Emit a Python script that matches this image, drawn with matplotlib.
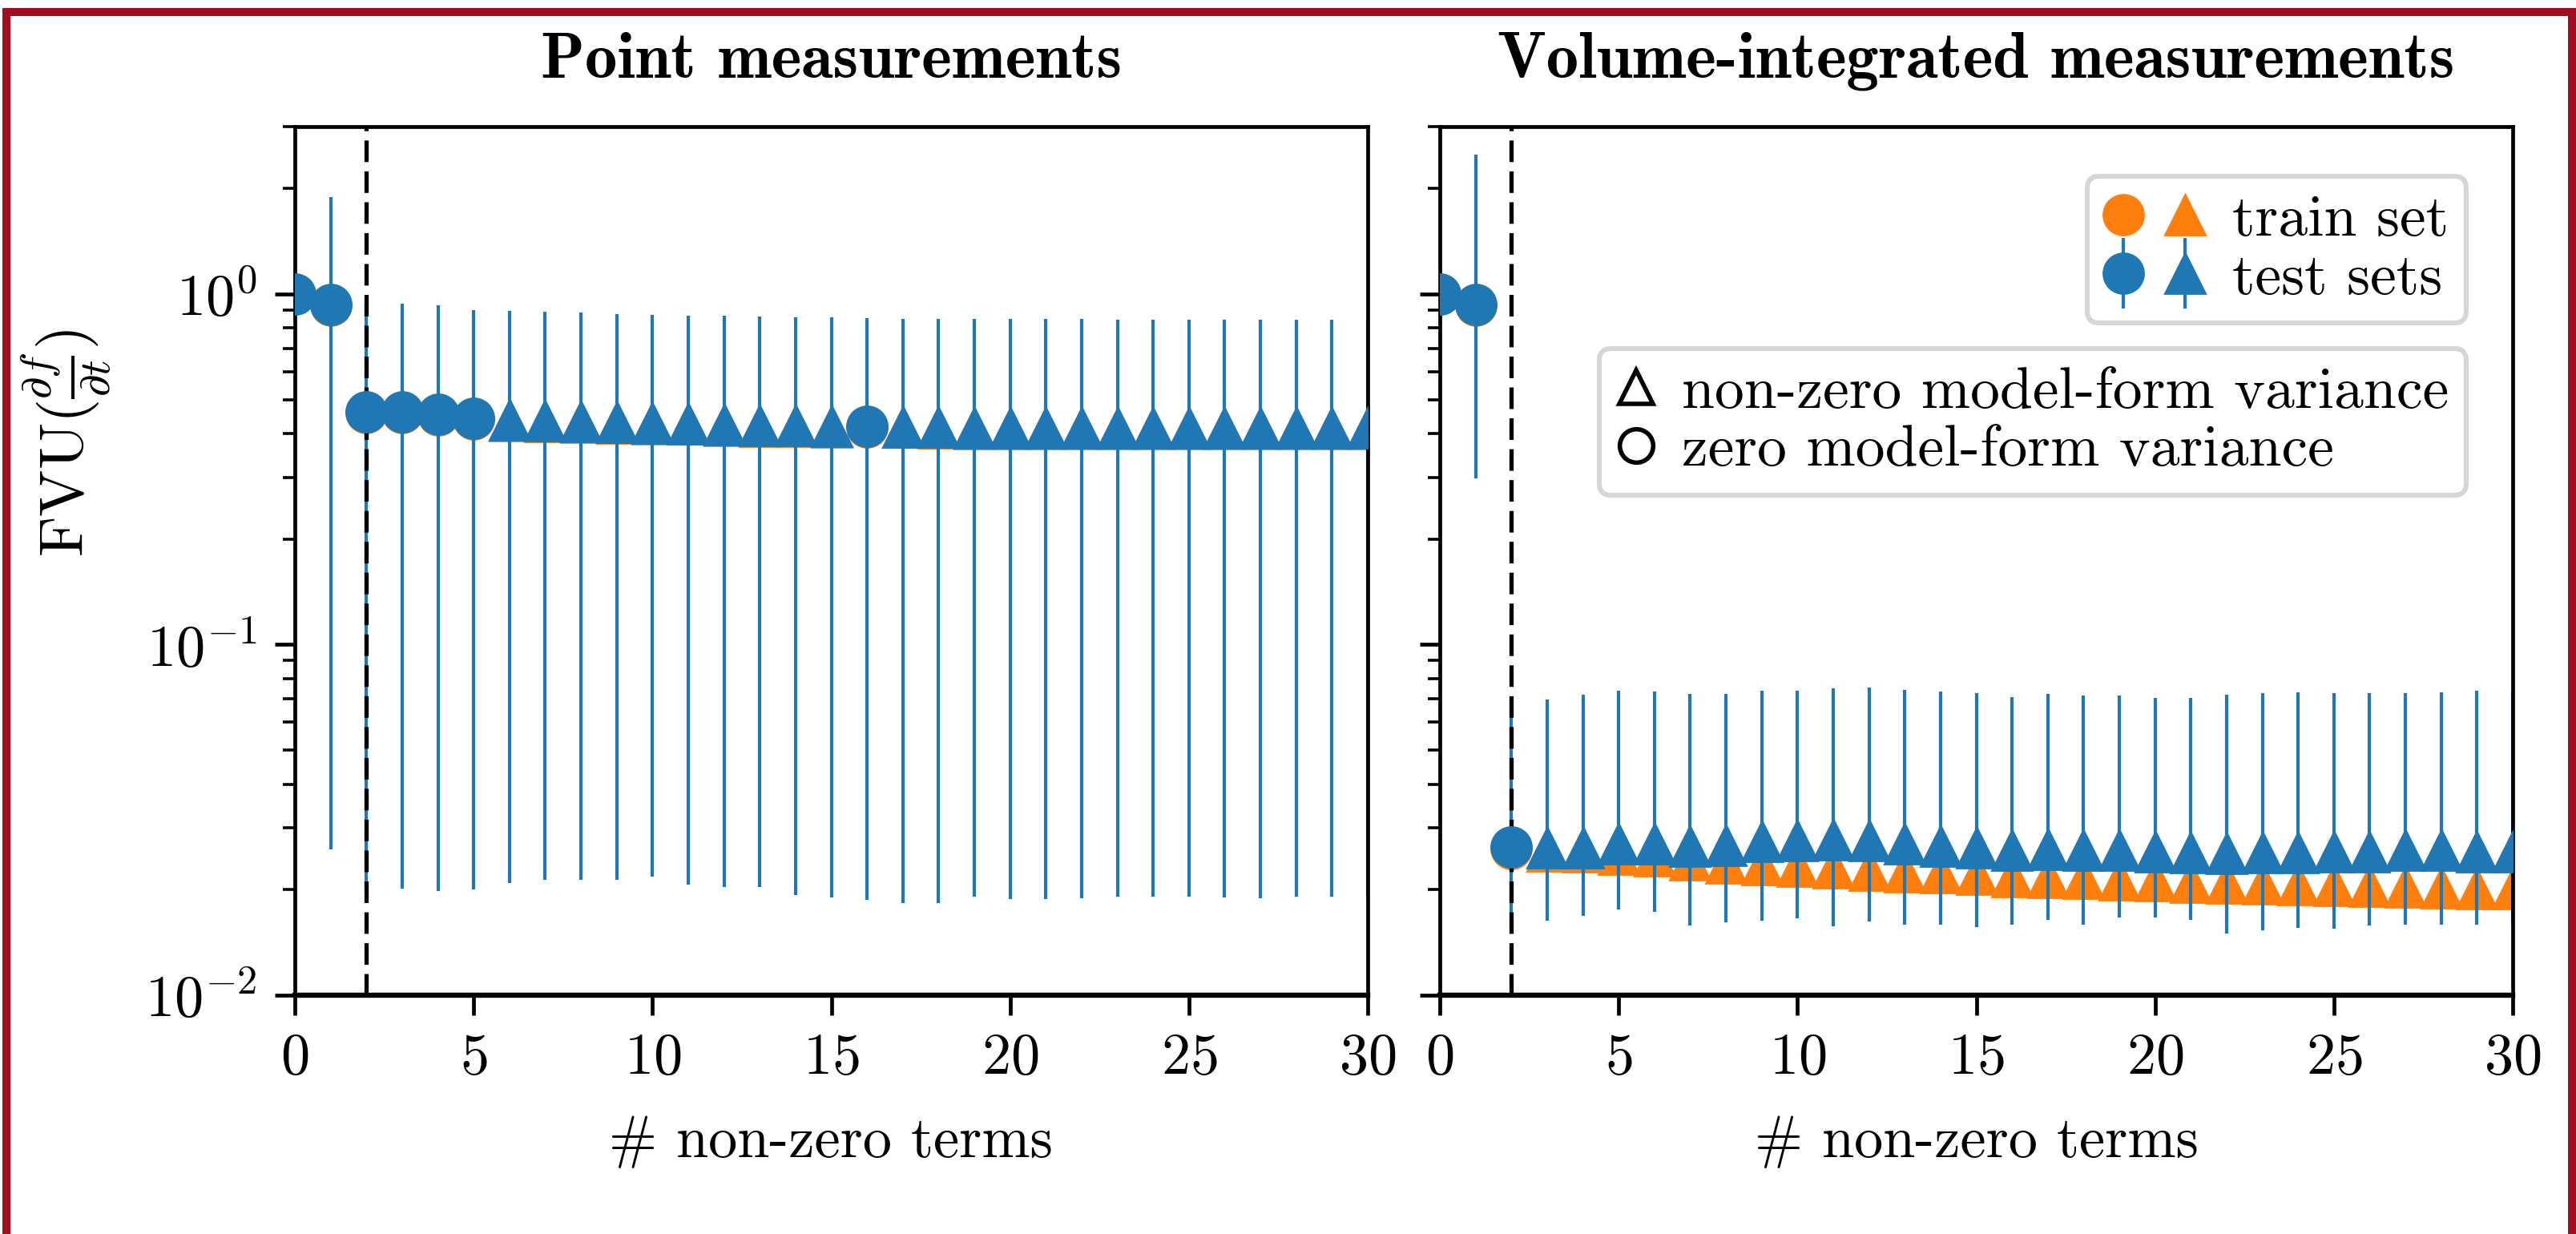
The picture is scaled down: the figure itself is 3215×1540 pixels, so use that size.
import numpy as np
import matplotlib
matplotlib.use("Agg")
import matplotlib.pyplot as plt
from matplotlib.lines import Line2D
from matplotlib.legend_handler import HandlerTuple, HandlerErrorbar
from matplotlib.container import ErrorbarContainer
from matplotlib.patches import Rectangle

plt.rcParams['font.family'] = ['cmr10', 'DejaVu Serif']
plt.rcParams['mathtext.fontset'] = 'cm'
plt.rcParams['axes.formatter.use_mathtext'] = True
plt.rcParams['axes.unicode_minus'] = True

# ---------------- data ----------------
n_terms = list(range(31))

# 1 = non-zero model-form variance (triangle), 0 = zero model-form variance (circle)
point_shape = [0, 0, 0, 0, 0, 0, 1, 1, 1, 1, 1, 1, 1, 1, 1, 1, 0, 1, 1, 1, 1, 1, 1, 1, 1, 1, 1, 1, 1, 1, 1]
point_test = [1.0, 0.935, 0.46, 0.46, 0.454, 0.442, 0.437, 0.434, 0.432, 0.430, 0.428, 0.427, 0.424, 0.422,
              0.421, 0.420, 0.420, 0.418, 0.417, 0.415, 0.415, 0.415, 0.415, 0.414, 0.414, 0.414, 0.414, 0.414,
              0.414, 0.414, 0.414]
point_high = [1.0, 1.89, 0.935, 0.936, 0.926, 0.900, 0.894, 0.889, 0.885, 0.875, 0.872, 0.868, 0.865, 0.860,
              0.857, 0.856, 0.852, 0.850, 0.850, 0.848, 0.848, 0.848, 0.848, 0.846, 0.846, 0.846, 0.845, 0.845,
              0.845, 0.843, 0.843]
point_low = [1.0, 0.0260, 0.0201, 0.0201, 0.0198, 0.0200, 0.0209, 0.0213, 0.0213, 0.0213, 0.0218, 0.0207,
             0.0204, 0.0203, 0.0193, 0.0190, 0.0187, 0.0183, 0.0183, 0.0191, 0.0188, 0.0188, 0.0189, 0.0191,
             0.0191, 0.0191, 0.0190, 0.0189, 0.0191, 0.0191, 0.0191]
point_train = [1.0, 0.93, 0.458, 0.458, 0.452, 0.440, 0.435, 0.432, 0.430, 0.428, 0.426, 0.425, 0.422, 0.420,
               0.419, 0.418, 0.418, 0.416, 0.415, 0.413, 0.413, 0.413, 0.413, 0.412, 0.412, 0.412, 0.412, 0.412,
               0.412, 0.412, 0.412]

vol_shape = [0, 0, 0] + [1] * 28
vol_test = [1.0, 0.932, 0.0265, 0.0263, 0.0263, 0.0271, 0.0270, 0.0266, 0.0268, 0.0274, 0.0276, 0.0277, 0.0276,
            0.0270, 0.0266, 0.0263, 0.0259, 0.0260, 0.0259, 0.0259, 0.0256, 0.0255, 0.0254, 0.0255, 0.0255,
            0.0256, 0.0257, 0.0259, 0.0259, 0.0257, 0.0257]
vol_high = [1.0, 2.50, 0.0700, 0.0698, 0.0719, 0.0740, 0.0736, 0.0724, 0.0725, 0.0738, 0.0740, 0.0752, 0.0754,
            0.0744, 0.0735, 0.0726, 0.0709, 0.0722, 0.0715, 0.0714, 0.0706, 0.0706, 0.0719, 0.0726, 0.0729,
            0.0728, 0.0728, 0.0728, 0.0730, 0.0738, 0.0735]
vol_low = [1.0, 0.298, 0.0171, 0.01635, 0.0168, 0.0176, 0.0173, 0.0158, 0.0161, 0.01635, 0.01655, 0.0157,
           0.0162, 0.0159, 0.0159, 0.0156, 0.0159, 0.0164, 0.0159, 0.0167, 0.0167, 0.0164, 0.0150, 0.0153,
           0.01556, 0.01545, 0.0158, 0.0159, 0.0159, 0.0159, 0.0159]
vol_train = [1.0, 0.93, 0.0262, 0.02576, 0.02563, 0.02518, 0.02496, 0.02431, 0.02379, 0.02358, 0.02333,
             0.02308, 0.02272, 0.02254, 0.02239, 0.02213, 0.02184, 0.02168, 0.02153, 0.02137, 0.02119, 0.02105,
             0.02092, 0.02078, 0.02067, 0.02056, 0.02045, 0.02034, 0.02025, 0.02018, 0.0201]

cutoff = 2
titles = ['Point measurements', 'Volume-integrated measurements']
xlabel = r'# non-zero terms'
ylabel = r'FVU$(\frac{\partial f}{\partial t})$'
train_label = 'train set'
test_label = 'test sets'
shape_labels = ['non-zero model-form variance', 'zero model-form variance']

# ---------------- style ----------------
W, H, DPI = 3215, 1540, 200
FS = 26
FS_LEG = 26.5
FS_TITLE = 29
C_TRAIN = '#ff7f0e'
C_TEST = '#1f77b4'
MS = 18

fig = plt.figure(figsize=(W / DPI, H / DPI), dpi=DPI)
ax_l = fig.add_axes([368 / W, 1 - 1242 / H, 1339 / W, 1084 / H])
ax_r = fig.add_axes([1797 / W, 1 - 1242 / H, 1339 / W, 1084 / H], sharey=ax_l)

panels = [
    (ax_l, point_shape, point_test, point_low, point_high, point_train),
    (ax_r, vol_shape, vol_test, vol_low, vol_high, vol_train),
]

handles = {}
for ax, shape, test, low, high, train in panels:
    x = np.array(n_terms)
    shape = np.array(shape)
    test = np.array(test)
    low = np.array(low)
    high = np.array(high)
    train = np.array(train)
    for s, mk in ((0, 'o'), (1, '^')):
        m = shape == s
        tr, = ax.plot(x[m], train[m], ls='none', marker=mk, color=C_TRAIN, ms=MS, zorder=1.8)
        eb = ax.errorbar(x[m], test[m], yerr=[test[m] - low[m], high[m] - test[m]], fmt=mk,
                         color=C_TEST, ms=MS, elinewidth=1.5, capsize=0, zorder=3)
        for bc in eb.lines[2]:
            bc.set_zorder(2)
        eb.lines[0].set_zorder(3)
        handles[(ax, s, 'train')] = tr
        handles[(ax, s, 'test')] = eb
    ax.axvline(cutoff, color='k', lw=1.9, ls=(0, (5.1, 2.2)), zorder=2.5)

    ax.set_yscale('log')
    ax.set_ylim(1e-2, 3)
    ax.set_xlim(0, 30)
    ax.set_xticks([0, 5, 10, 15, 20, 25, 30])
    ax.tick_params(which='major', direction='out', length=9, width=1.7, labelsize=FS, pad=8)
    ax.tick_params(which='minor', direction='out', length=5.5, width=1.3)
    for sp in ax.spines.values():
        sp.set_linewidth(1.7)
    ax.spines['bottom'].set_linewidth(2.3)
    ax.set_xlabel(xlabel, fontsize=FS, labelpad=14)

ax_l.set_title(titles[0], fontsize=FS_TITLE, family=['cmb10', 'DejaVu Serif'], pad=22)
ax_r.set_title(titles[1], fontsize=FS_TITLE, family=['cmb10', 'DejaVu Serif'], pad=22)
plt.setp(ax_r.get_yticklabels(), visible=False)

ax_l.set_ylabel(ylabel, fontsize=28)
ax_l.yaxis.set_label_coords((82 - 368) / 1339, (1242 - 553) / 1084)
ax_l.yaxis.label.set_va('center')

# legends
h_train = (handles[(ax_r, 0, 'train')], handles[(ax_r, 1, 'train')])
h_test = (handles[(ax_r, 0, 'test')], handles[(ax_r, 1, 'test')])
leg1 = ax_r.legend([h_train, h_test], [train_label, test_label],
                   handler_map={tuple: HandlerTuple(ndivide=None, pad=0.43),
                                ErrorbarContainer: HandlerErrorbar(yerr_size=0.6)},
                   loc='upper right', bbox_to_anchor=((3078 - 1797) / 1339, (1242 - 220) / 1084),
                   borderaxespad=0, fontsize=FS_LEG, handlelength=1.65, handletextpad=0.5,
                   labelspacing=0.1, borderpad=0.3, framealpha=1, edgecolor='0.84', fancybox=True)
leg1.get_frame().set_linewidth(2.2)
ax_r.add_artist(leg1)

proxy_tri = Line2D([], [], ls='none', marker='^', mfc='none', mec='k', mew=2, ms=15)
proxy_cir = Line2D([], [], ls='none', marker='o', mfc='none', mec='k', mew=2, ms=15)
leg2 = ax_r.legend([proxy_tri, proxy_cir], shape_labels,
                   loc='upper right', bbox_to_anchor=((3078 - 1797) / 1339, (1242 - 435) / 1084),
                   borderaxespad=0, fontsize=FS_LEG, handlelength=0.64, handletextpad=0.45,
                   labelspacing=0.1, borderpad=0.3, framealpha=1, edgecolor='0.84', fancybox=True)
leg2.get_frame().set_linewidth(2.2)

# dark red frame (top, left, right)
RED = '#a20e20'
for (x0, y0, w, h) in [(3, 10, 3212, 10), (3, 10, 10, 1530), (3205, 10, 10, 1530)]:
    fig.add_artist(Rectangle((x0 / W, 1 - (y0 + h) / H), w / W, h / H, transform=fig.transFigure,
                             facecolor=RED, edgecolor='none', zorder=10))

fig.savefig('out.png', dpi=DPI)
